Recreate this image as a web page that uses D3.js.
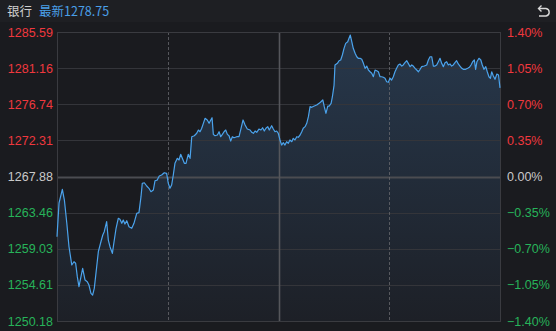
<!DOCTYPE html>
<html>
<head>
<meta charset="utf-8">
<script src="https://cdn.jsdelivr.net/npm/d3@7"></script>
<style>
  html, body { margin: 0; padding: 0; background: #1a1b1f; }
  svg { display: block; }
</style>
</head>
<body>
<div id="chart"></div>
<script>
// intraday readings: minute of the trading session (0..240) and index level
var minutes = [0,1.1,2.9,4.0,5.3,6.5,8.0,9.2,10.1,11.0,11.9,12.8,13.9,15.2,16.4,17.3,18.4,19.3,20.2,21.5,
  22.4,23.8,24.8,25.6,26.9,27.8,28.7,30.0,30.9,32.0,33.2,34.1,35.1,35.9,36.8,37.8,39.0,40.5,41.7,43.2,
  44.4,45.5,46.2,47.3,48.6,49.8,50.9,52.2,53.1,54.3,55.4,56.7,58.1,59.4,60.3,61.2,62.1,63.0,63.9,65.2,
  66.1,67.0,67.9,69.0,69.9,71.1,72.1,73.0,74.4,75.7,76.6,77.5,78.4,79.3,80.2,81.4,82.4,83.3,84.0,84.7,
  85.6,86.9,87.8,88.7,89.6,90.5,91.4,92.3,93.2,94.1,95.0,95.9,97.4,98.6,99.7,100.8,101.9,103.1,104.6,105.5,
  106.4,107.3,108.2,109.4,110.5,111.4,112.3,113.2,114.2,115.0,116.3,117.2,118.1,119.0,119.9,120.8,121.7,122.6,123.5,124.4,
  125.3,126.2,127.2,128.0,128.9,129.9,130.7,131.7,132.6,133.4,134.4,135.3,136.2,137.1,138.0,139.4,140.7,142.0,143.0,144.0,
  144.8,145.7,146.7,147.5,148.5,149.2,150.1,150.6,151.9,152.8,153.7,154.6,155.5,156.4,157.5,158.2,158.9,159.7,160.5,161.5,
  162.4,163.2,164.2,165.1,166.0,166.9,167.8,168.7,169.6,170.5,171.4,172.3,173.2,174.1,175.0,175.9,176.8,177.7,178.6,179.5,
  180.4,181.3,182.2,183.1,184.0,184.9,185.8,186.8,187.6,188.5,189.5,190.3,191.3,192.2,193.0,194.0,194.9,195.8,196.7,197.6,
  199.0,200.3,201.2,202.1,203.0,203.9,204.8,205.7,206.6,207.5,208.4,209.3,210.2,211.1,212.0,212.9,213.8,214.7,215.6,216.5,
  217.4,218.3,219.3,220.1,221.4,222.5,223.4,224.3,225.2,226.1,226.8,227.5,228.6,229.6,230.4,231.3,232.3,233.1,234.0,234.8,
  235.5,236.4,237.3,238.3,239.2,240];
var prices = [1260.51,1264.64,1266.32,1265.00,1262.19,1259.28,1257.04,1257.44,1257.25,1255.61,1254.38,1255.41,1256.64,1255.20,1254.99,1254.59,1253.57,1253.36,1254.18,1256.83,
  1258.67,1259.89,1260.72,1261.12,1262.35,1260.10,1259.28,1258.47,1259.89,1261.54,1262.76,1262.64,1262.15,1262.55,1262.06,1262.47,1261.73,1261.54,1262.15,1263.37,
  1263.45,1265.41,1267.05,1267.12,1266.72,1266.44,1266.02,1266.23,1267.37,1267.45,1267.94,1268.07,1268.35,1268.27,1267.05,1266.44,1266.84,1268.07,1269.50,1270.11,
  1269.91,1270.60,1270.11,1269.50,1269.50,1270.60,1270.11,1272.76,1272.88,1273.18,1273.58,1273.37,1273.79,1274.40,1275.01,1274.81,1274.40,1274.81,1275.09,1273.05,
  1272.88,1272.97,1273.37,1272.76,1273.05,1273.37,1273.58,1273.05,1272.88,1272.23,1272.76,1272.64,1272.76,1272.76,1273.79,1274.81,1274.19,1273.70,1273.58,1273.30,
  1273.18,1273.46,1273.30,1273.70,1273.58,1273.86,1273.46,1273.79,1273.99,1273.58,1274.11,1273.70,1273.37,1273.46,1273.18,1272.36,1271.74,1272.03,1271.74,1272.15,
  1271.95,1272.36,1272.15,1272.56,1272.36,1272.76,1272.69,1272.97,1273.37,1273.79,1273.99,1274.40,1275.21,1276.44,1276.36,1276.52,1276.64,1276.85,1277.05,1277.26,
  1276.44,1275.63,1276.52,1276.52,1276.85,1277.66,1279.09,1281.55,1281.75,1282.07,1282.16,1282.77,1283.59,1284.20,1284.40,1284.82,1285.22,1284.40,1283.59,1282.98,
  1282.56,1282.37,1282.37,1282.24,1281.75,1281.14,1281.42,1280.93,1280.72,1280.53,1280.11,1280.93,1280.85,1280.72,1280.11,1280.11,1280.04,1279.92,1279.50,1279.43,
  1279.92,1279.71,1280.11,1280.72,1281.14,1281.55,1281.67,1281.42,1281.55,1281.83,1282.07,1281.75,1281.34,1281.55,1281.42,1281.14,1280.93,1280.72,1281.02,1281.34,
  1281.42,1281.55,1282.16,1282.56,1282.56,1281.42,1281.42,1281.55,1281.95,1282.37,1281.75,1281.34,1281.83,1281.95,1281.55,1281.67,1281.42,1281.55,1281.83,1282.07,
  1281.67,1281.42,1281.14,1281.02,1281.02,1281.14,1281.26,1281.55,1281.95,1282.16,1281.02,1281.95,1282.37,1282.16,1281.55,1281.02,1281.34,1280.72,1280.11,1279.92,
  1280.72,1280.20,1279.79,1280.44,1280.32,1278.75];

var levels = [1250.18, 1254.61, 1259.03, 1263.46, 1267.88, 1272.31, 1276.74, 1281.16, 1285.59];
var prevClose = 1267.88;
var hourMarks = [60, 120, 180];
var title = "银行";
var latestLabel = "最新";
var latest = 1278.75;

var W = 556, H = 331;
var plotL = 57, plotR = 500, plotT = 32, plotB = 321;
var red = "#f0383e", green = "#27b35a", flat = "#c9c9c9";

var svg = d3.select("#chart").append("svg").attr("width", W).attr("height", H);

svg.append("rect").attr("width", W).attr("height", H).attr("fill", "#1a1b1f");
svg.append("rect").attr("width", W).attr("height", 22).attr("fill", "#1e1f23");

var x = d3.scaleLinear().domain([0, 240]).range([plotL, plotR]);
var y = d3.scaleLinear().domain([levels[0], levels[levels.length - 1]]).range([plotB, plotT]);

var data = minutes.map(function (m, i) { return {m: m, p: prices[i]}; });

// area gradient
var defs = svg.append("defs");
var grad = defs.append("linearGradient").attr("id", "fillGrad")
    .attr("gradientUnits", "userSpaceOnUse")
    .attr("x1", 0).attr("y1", plotT).attr("x2", 0).attr("y2", plotB);
grad.append("stop").attr("offset", "0%").attr("stop-color", "#27384c");
grad.append("stop").attr("offset", "100%").attr("stop-color", "#1d2027");

var area = d3.area().x(function (d) { return x(d.m); })
    .y0(plotB).y1(function (d) { return y(d.p); });
svg.append("path").datum(data).attr("d", area).attr("fill", "url(#fillGrad)");

// horizontal grid
svg.append("g").selectAll("line").data(levels).enter().append("line")
    .attr("x1", plotL).attr("x2", plotR)
    .attr("y1", function (d) { return Math.round(y(d)) + 0.5; })
    .attr("y2", function (d) { return Math.round(y(d)) + 0.5; })
    .attr("stroke", function (d) { return d === prevClose ? "#4b4c51" : "#34353a"; })
    .attr("stroke-width", function (d) { return d === prevClose ? 2 : 1; });

// vertical grid
svg.append("g").selectAll("line").data(hourMarks).enter().append("line")
    .attr("x1", function (d) { return Math.round(x(d)) + 0.5; })
    .attr("x2", function (d) { return Math.round(x(d)) + 0.5; })
    .attr("y1", plotT).attr("y2", plotB)
    .attr("stroke", function (d) { return d === 120 ? "#55565b" : "#66676c"; })
    .attr("stroke-width", function (d) { return d === 120 ? 1.6 : 0.8; })
    .attr("stroke-dasharray", function (d) { return d === 120 ? null : "3,2"; });

// frame
svg.append("rect").attr("x", plotL + 0.5).attr("y", plotT + 0.5)
    .attr("width", plotR - plotL).attr("height", plotB - plotT)
    .attr("fill", "none").attr("stroke", "#3a3b40");

// price line
var line = d3.line().x(function (d) { return x(d.m); }).y(function (d) { return y(d.p); });
svg.append("path").datum(data).attr("d", line)
    .attr("fill", "none").attr("stroke", "#4ba3ec").attr("stroke-width", 1.2)
    .attr("stroke-linejoin", "round");

function tone(v) { return v > prevClose ? red : (v < prevClose ? green : flat); }
var fmtPct = d3.format(".2f");

// left axis
var leftAxis = d3.axisLeft(y).tickValues(levels).tickSize(0).tickPadding(4)
    .tickFormat(d3.format(".2f"));
var gl = svg.append("g").attr("transform", "translate(" + plotL + ",0)").call(leftAxis);
gl.select(".domain").remove();
gl.selectAll("text").attr("fill", function (d) { return tone(d); })
    .style("font-family", "'Liberation Sans', Arial, sans-serif").style("font-size", "12.5px");

// right axis
var rightAxis = d3.axisRight(y).tickValues(levels).tickSize(0).tickPadding(7)
    .tickFormat(function (d) { return fmtPct((d - prevClose) / prevClose * 100) + "%"; });
var gr = svg.append("g").attr("transform", "translate(" + plotR + ",0)").call(rightAxis);
gr.select(".domain").remove();
gr.selectAll("text").attr("fill", function (d) { return tone(d); })
    .style("font-family", "'Liberation Sans', Arial, sans-serif").style("font-size", "12.5px");

// header
var head = svg.append("text").attr("x", 7).attr("y", 16)
    .style("font-family", "'Noto Sans CJK SC', sans-serif").style("font-size", "12.5px");
head.append("tspan").attr("fill", "#cfcfcf").text(title);
head.append("tspan").attr("dx", 7).attr("fill", "#4a9fe8").text(latestLabel + d3.format(".2f")(latest));

// return icon
svg.append("path")
    .attr("d", "M539,8.5 L546,8.5 A3.8,3.8 0 0 1 546,16 L539,16")
    .attr("fill", "none").attr("stroke", "#d8d8d8").attr("stroke-width", 1.4);
svg.append("path")
    .attr("d", "M541.5,5.5 L538.5,8.5 L541.5,11.5")
    .attr("fill", "none").attr("stroke", "#d8d8d8").attr("stroke-width", 1.4);
</script>
</body>
</html>
